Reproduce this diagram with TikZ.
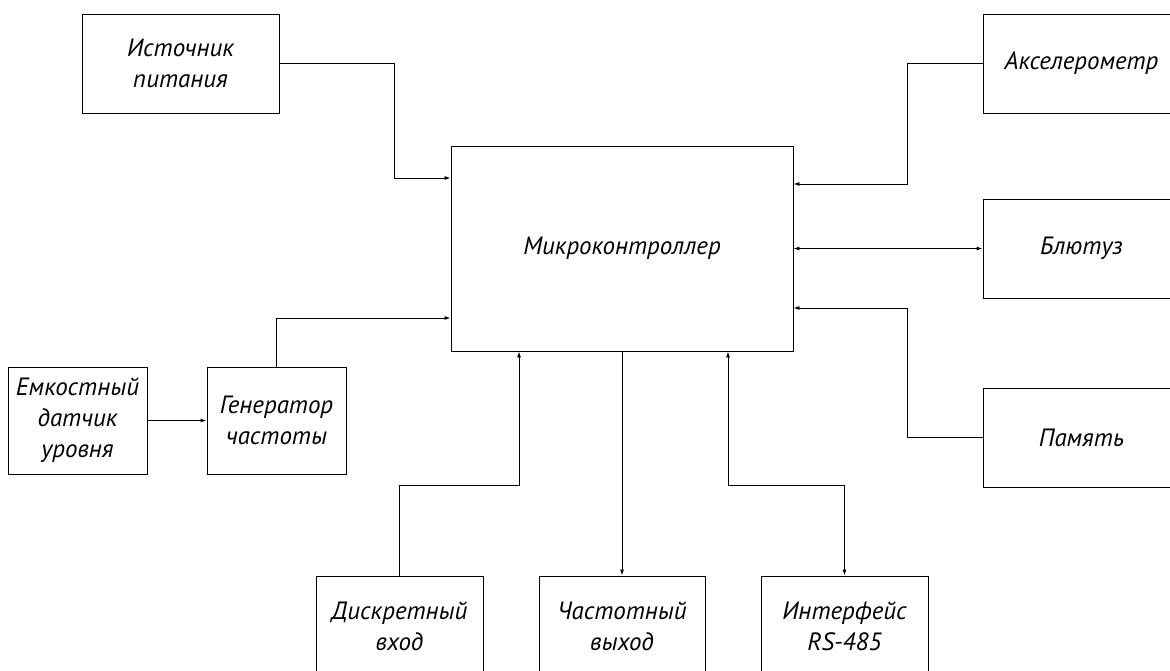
\documentclass[tikz,border=0pt]{standalone}
\usepackage{fontspec}
\setmainfont{PT Sans}
\usetikzlibrary{arrows.meta}
\tikzset{
  blk/.style={draw, line width=0.9pt, inner sep=0pt, align=center, font=\fontsize{25}{31}\selectfont\itshape},
  conn/.style={line width=0.9pt, -{Latex[length=6pt,width=4pt]}},
  bconn/.style={line width=0.9pt, {Latex[length=6pt,width=4pt]}-{Latex[length=6pt,width=4pt]}}
}
\begin{document}
\begin{tikzpicture}[x=1pt,y=-1pt]
\useasboundingbox (0,0) rectangle (1170,671);
\clip (0,0) rectangle (1170,671);
\node[blk, minimum width=197pt, minimum height=99pt] (ist) at (180.5,63.5) {Источник\\питания};
\node[blk, minimum width=342pt, minimum height=205pt] (mc) at (622,248.5) {Микроконтроллер};
\node[blk, minimum width=197pt, minimum height=99pt] (acc) at (1081.5,63.5) {Акселерометр};
\node[blk, minimum width=197pt, minimum height=99pt] (bt) at (1081.5,248.5) {Блютуз};
\node[blk, minimum width=197pt, minimum height=99pt] (mem) at (1081.5,437.5) {Память};
\node[blk, minimum width=139pt, minimum height=107pt] (cap) at (77.5,420.5) {Емкостный\\датчик\\уровня};
\node[blk, minimum width=139pt, minimum height=107pt] (gen) at (276.5,420.5) {Генератор\\частоты};
\node[blk, minimum width=167pt, minimum height=100pt] (din) at (399.5,626) {Дискретный\\вход};
\node[blk, minimum width=166pt, minimum height=100pt] (fout) at (622,626) {Частотный\\выход};
\node[blk, minimum width=167pt, minimum height=100pt] (rs) at (844.5,626) {Интерфейс\\RS-485};
\coordinate (p1) at (394,178);
\coordinate (p2) at (907,184);
\coordinate (p3) at (907,308);
\coordinate (p4) at (276.5,318);
\coordinate (p5) at (399.5,485);
\coordinate (p6) at (519,485);
\coordinate (p7) at (728,485);
\draw[conn] (ist.east) -| (p1) -- (p1 -| mc.west);
\draw[conn] (acc.west) -| (p2) -- (p2 -| mc.east);
\draw[bconn] (mc.east) -- (bt.west);
\draw[conn] (mem.west) -| (p3) -- (p3 -| mc.east);
\draw[conn] (gen.north) -- (p4) -- (p4 -| mc.west);
\draw[conn] (cap.east) -- (gen.west);
\draw[conn] (din.north) -- (p5) -- (p6) -- (p6 |- mc.south);
\draw[conn] (mc.south) -- (fout.north);
\draw[bconn] (p7 |- mc.south) -- (p7) -| (rs.north);
\end{tikzpicture}
\end{document}
